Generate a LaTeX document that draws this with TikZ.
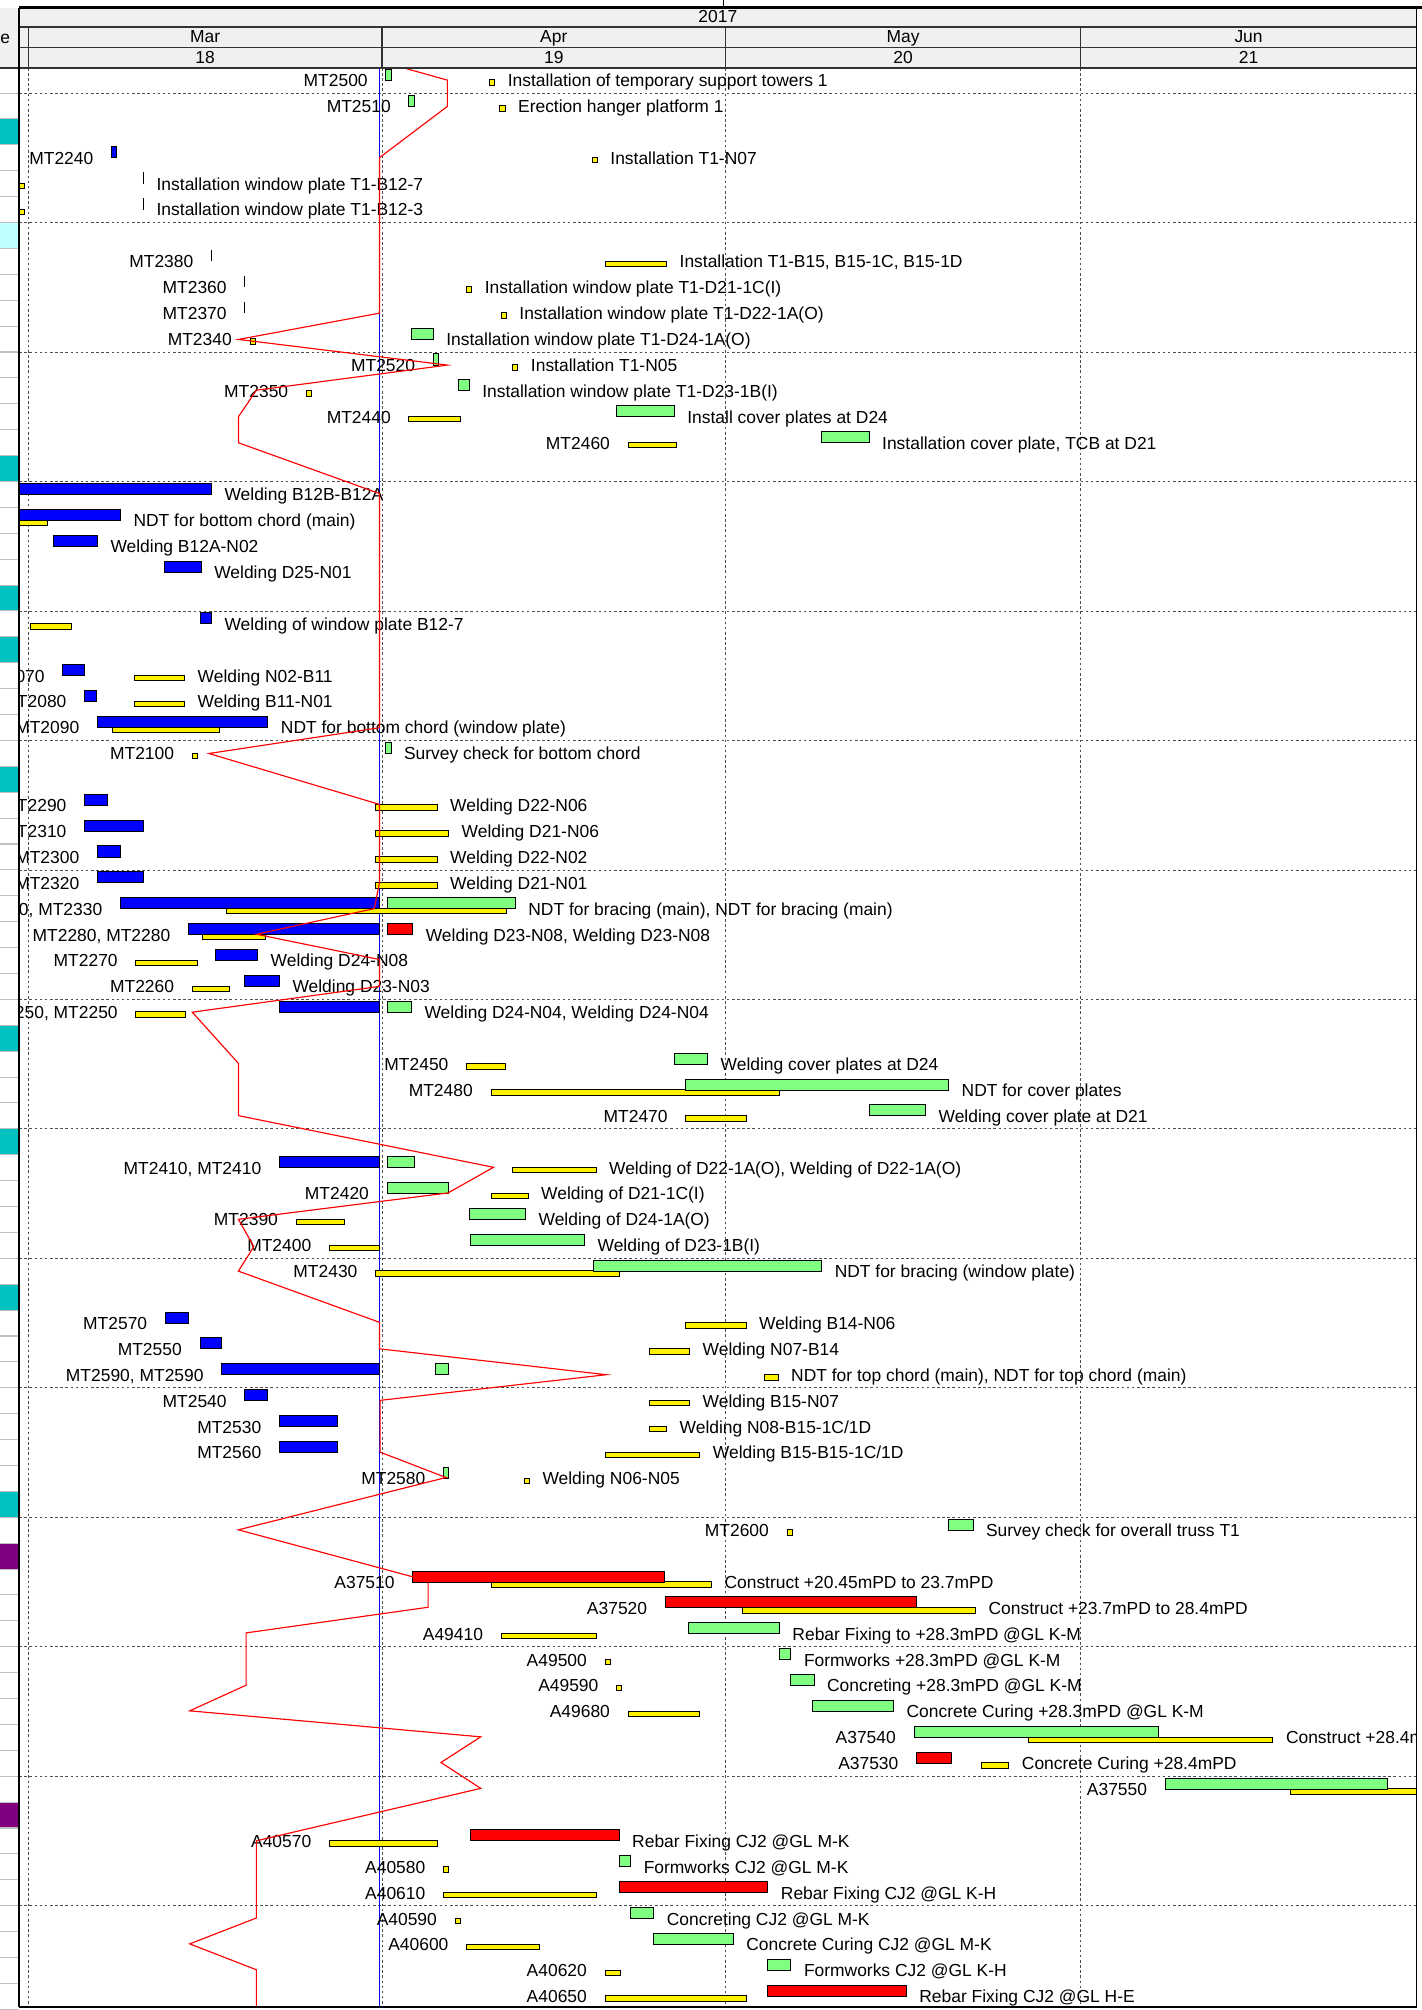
\documentclass[tikz,border=0pt]{standalone}
\usepackage{fontspec}
\setmainfont{Liberation Sans}
\usepackage{xcolor}

\definecolor{barGreen}{RGB}{128,255,128}
\definecolor{cellTeal}{RGB}{0,192,192}
\definecolor{cellCyan}{RGB}{192,255,255}
\definecolor{cellPurple}{RGB}{128,0,128}
\definecolor{headGray}{RGB}{240,240,240}

\begin{document}
\begin{tikzpicture}[x=1pt, y=-1pt,
    txt/.style={font=\fontsize{13.6}{16}\selectfont, inner sep=0pt},
    lbl/.style={txt, anchor=base east},
    desc/.style={txt, anchor=base west},
    actbar/.style={draw=black, line width=0.7pt},
    basebar/.style={draw=black, line width=0.7pt, fill=yellow},
    tickmark/.style={black, line width=0.8pt},
    grid/.style={black!70, line width=0.6pt, dash pattern=on 2pt off 2pt},
    hline/.style={black!80, line width=1pt},
    rowsep/.style={black!25, line width=0.8pt},
    dateline/.style={blue, line width=0.6pt},
    progress/.style={red, line width=0.9pt, line join=miter}
]

    \useasboundingbox (0,0) rectangle (1109,1568);

    % Row centre: y = 62.5 + 20.2*r
    \def\cellList{2/cellTeal,6/cellCyan,15/cellTeal,20/cellTeal,22/cellTeal,27/cellTeal,37/cellTeal,41/cellTeal,47/cellTeal,55/cellTeal,57/cellPurple,67/cellPurple}

    \def\baseList{0/382/386,1/390/394,3/462/466,4/12/19,5/12/19,7/472/520,8/364/368,9/391/395,10/195/199,11/400/404,12/239/243,13/319/359,14/490/528,17/12/37,21/24/56,23/105/144,24/105/144,25/88/171,26/150/154,28/293/341,29/293/350,30/293/341,31/293/341,32/177/395,33/158/207,34/106/154,35/150/179,36/106/145,38/364/394,39/383/608,40/535/582,42/400/465,43/383/412,44/231/269,45/257/296,46/293/483,48/535/582,49/507/538,50/596/607,51/507/538,52/507/520,53/472/546,54/409/413,56/614/618,58/383/555,59/579/761,60/391/465,61/472/476,62/481/485,63/490/546,64/802/993,65/766/787,66/1007/1112,68/257/341,69/346/350,70/346/465,71/355/359,72/364/421,73/472/484,74/472/582}

    \def\actList{0/301/305/barGreen,1/319/323/barGreen,3/87/91/blue,10/321/338/barGreen,11/338/342/barGreen,12/358/366/barGreen,13/481/526/barGreen,14/641/678/barGreen,16/10/165/blue,17/10/94/blue,18/42/76/blue,19/128/157/blue,21/156/165/blue,23/49/66/blue,24/66/75/blue,25/76/209/blue,26/301/305/barGreen,28/66/84/blue,29/66/112/blue,30/76/94/blue,31/76/112/blue,32/94/296/blue,32/302/402/barGreen,33/147/296/blue,33/302/322/red,34/168/201/blue,35/191/218/blue,36/218/296/blue,36/302/321/barGreen,38/526/552/barGreen,39/535/740/barGreen,40/678/722/barGreen,42/218/296/blue,42/302/323/barGreen,43/302/350/barGreen,44/366/410/barGreen,45/367/456/barGreen,46/463/641/barGreen,48/129/147/blue,49/156/173/blue,50/173/296/blue,50/340/350/barGreen,51/191/209/blue,52/218/263/blue,53/218/263/blue,54/346/350/barGreen,56/740/759/barGreen,58/322/518/red,59/519/715/red,60/537/608/barGreen,61/608/617/barGreen,62/617/635/barGreen,63/634/697/barGreen,64/713/904/barGreen,65/715/742/red,66/909/1082/barGreen,68/367/483/red,69/483/492/barGreen,70/483/599/red,71/492/510/barGreen,72/510/572/barGreen,73/599/617/barGreen,74/599/707/red}

    \def\labelList{0/287/MT2500,1/305/MT2510,3/73/MT2240,7/151/MT2380,8/177/MT2360,9/177/MT2370,10/181/MT2340,11/324/MT2520,12/225/MT2350,13/305/MT2440,14/476/MT2460,23/35/MT2070,24/52/MT2080,25/62/MT2090,26/136/MT2100,28/52/MT2290,29/52/MT2310,30/62/MT2300,31/62/MT2320,32/80/{MT2330, MT2330},33/133/{MT2280, MT2280},34/92/MT2270,35/136/MT2260,36/92/{MT2250, MT2250},38/350/MT2450,39/369/MT2480,40/521/MT2470,42/204/{MT2410, MT2410},43/288/MT2420,44/217/MT2390,45/243/MT2400,46/279/MT2430,48/115/MT2570,49/142/MT2550,50/159/{MT2590, MT2590},51/177/MT2540,52/204/MT2530,53/204/MT2560,54/332/MT2580,56/600/MT2600,58/308/A37510,59/505/A37520,60/377/A49410,61/458/A49500,62/467/A49590,63/476/A49680,64/699/A37540,65/701/A37530,66/895/A37550,68/243/A40570,69/332/A40580,70/332/A40610,71/341/A40590,72/350/A40600,73/458/A40620,74/458/A40650}

    \def\descList{0/396/Installation of temporary support towers 1,1/404/Erection hanger platform 1,3/476/Installation T1-N07,4/122/Installation window plate T1-B12-7,5/122/Installation window plate T1-B12-3,7/530/{Installation T1-B15, B15-1C, B15-1D},8/378/Installation window plate T1-D21-1C(I),9/405/Installation window plate T1-D22-1A(O),10/348/Installation window plate T1-D24-1A(O),11/414/Installation T1-N05,12/376/Installation window plate T1-D23-1B(I),13/536/Install cover plates at D24,14/688/{Installation cover plate, TCB at D21},16/175/Welding B12B-B12A,17/104/NDT for bottom chord (main),18/86/Welding B12A-N02,19/167/Welding D25-N01,21/175/Welding of window plate B12-7,23/154/Welding N02-B11,24/154/Welding B11-N01,25/219/NDT for bottom chord (window plate),26/315/Survey check for bottom chord,28/351/Welding D22-N06,29/360/Welding D21-N06,30/351/Welding D22-N02,31/351/Welding D21-N01,32/412/{NDT for bracing (main), NDT for bracing (main)},33/332/{Welding D23-N08, Welding D23-N08},34/211/Welding D24-N08,35/228/Welding D23-N03,36/331/{Welding D24-N04, Welding D24-N04},38/562/Welding cover plates at D24,39/750/NDT for cover plates,40/732/Welding cover plate at D21,42/475/{Welding of D22-1A(O), Welding of D22-1A(O)},43/422/Welding of D21-1C(I),44/420/Welding of D24-1A(O),45/466/Welding of D23-1B(I),46/651/NDT for bracing (window plate),48/592/Welding B14-N06,49/548/Welding N07-B14,50/617/{NDT for top chord (main), NDT for top chord (main)},51/548/Welding B15-N07,52/530/{Welding N08-B15-1C/1D},53/556/{Welding B15-B15-1C/1D},54/423/Welding N06-N05,56/769/Survey check for overall truss T1,58/565/Construct +20.45mPD to 23.7mPD,59/771/Construct +23.7mPD to 28.4mPD,60/618/Rebar Fixing to +28.3mPD @GL K-M,61/627/Formworks +28.3mPD @GL K-M,62/645/Concreting +28.3mPD @GL K-M,63/707/Concrete Curing +28.3mPD @GL K-M,64/1003/Construct +28.4mPD,65/797/Concrete Curing +28.4mPD,68/493/Rebar Fixing CJ2 @GL M-K,69/502/Formworks CJ2 @GL M-K,70/609/Rebar Fixing CJ2 @GL K-H,71/520/Concreting CJ2 @GL M-K,72/582/Concrete Curing CJ2 @GL M-K,73/627/Formworks CJ2 @GL K-H,74/717/Rebar Fixing CJ2 @GL H-E}

    % Left column cells and row separators
    \foreach \r/\col in \cellList {
        \pgfmathsetmacro\yc{62.5+20.2*\r}
        \fill[\col] (0,\yc-10.1) rectangle (15,\yc+10.1);
    }
    \foreach \r in {0,...,74} {
        \pgfmathsetmacro\yc{62.5+20.2*\r}
        \draw[rowsep] (0,\yc+10.1) -- (15,\yc+10.1);
    }

    % Chart area
    \begin{scope}
        \clip (15,53) rectangle (1105,1565);

        % grid lines
        \foreach \x in {22,298.5,566,843}
            \draw[grid] (\x,53) -- (\x,1565);
        \foreach \k in {0,...,14}
            \draw[grid] (15,72.6+101*\k) -- (1105,72.6+101*\k);

        % status date
        \draw[dateline] (296,53) -- (296,1565);

        % baseline bars
        \foreach \r/\xa/\xb in \baseList {
            \pgfmathsetmacro\yc{62.5+20.2*\r}
            \draw[basebar] (\xa,\yc-0.3) rectangle (\xb,\yc+4);
        }

        % actual bars
        \foreach \r/\xa/\xb/\col in \actList {
            \pgfmathsetmacro\yc{62.5+20.2*\r}
            \draw[actbar, fill=\col] (\xa,\yc-8.6) rectangle (\xb,\yc);
        }

        % zero length tasks
        \foreach \r/\x in {4/112,5/112,7/165,8/191,9/191} {
            \pgfmathsetmacro\yc{62.5+20.2*\r}
            \draw[tickmark] (\x,\yc-9) -- (\x,\yc);
        }

        % task ids
        \foreach \r/\x/\lab in \labelList {
            \pgfmathsetmacro\yc{62.5+20.2*\r}
            \node[lbl] (id\r) at (\x,\yc+5) {\lab};
        }

        % task names
        \foreach \r/\x/\dsc in \descList {
            \pgfmathsetmacro\yc{62.5+20.2*\r}
            \node[desc] (task\r) at (\x,\yc+5) {\dsc};
        }

        % progress line
        \draw[progress] (315,53) -- (349,62.5) -- (349,83) -- (296,123) -- (296,244.3)
            -- (186,264.8) -- (349,284.8) -- (200,304.4) -- (186,325.1) -- (186,345.4)
            -- (296,385) -- (296,567.7) -- (163,587.8) -- (296,627.5) -- (296,688.7)
            -- (292,708.8) -- (200,728.8) -- (296,748.5) -- (296,769.5) -- (150,789.6)
            -- (186,829.5) -- (186,870.3) -- (385,910.6) -- (349.5,930.6) -- (186,951.2)
            -- (198,972.5) -- (186,991.6) -- (296,1031.5) -- (296,1052.2) -- (473,1072.4)
            -- (296.5,1092.4) -- (296.5,1132.8) -- (348,1152.6) -- (186,1193.4)
            -- (321,1229.8) -- (334,1233.5) -- (334,1253.8) -- (192,1273.8) -- (192,1314.6)
            -- (148,1334.6) -- (375,1354.9) -- (344,1374.9) -- (375,1395.1) -- (200,1436)
            -- (200,1496.2) -- (148,1516.4) -- (200,1536.6) -- (200,1566);
    \end{scope}

    % Header
    \fill[headGray] (0,6.5) rectangle (1105,53);
    \draw[hline] (15,21) -- (1105,21);
    \draw[hline] (15,37) -- (1105,37);
    \draw[hline] (0,53) -- (1105,53);
    \foreach \x in {22,298,566,843}
        \draw[hline] (\x,21) -- (\x,53);
    \draw[black, line width=0.6pt] (564,0) -- (564,6);
    \draw[black, line width=2.4pt] (15,6) -- (1109,6);

    \node[txt, anchor=base west] (colname) at (0,34.3) {e};
    \node[txt, anchor=base] (year) at (560,17.8) {2017};
    \foreach \m/\xm [count=\i] in {Mar/160,Apr/432,May/704.5,Jun/974}
        \node[txt, anchor=base] (month\i) at (\xm,33.5) {\m};
    \foreach \w/\xm [count=\i] in {18/160,19/432,20/704.5,21/974}
        \node[txt, anchor=base] (week\i) at (\xm,49.5) {\w};

    % Borders
    \draw[black, line width=1.8pt] (15,6) -- (15,1566);
    \draw[black, line width=1pt] (1105,6) -- (1105,1566);
    \draw[black, line width=1.8pt] (15,1565.5) -- (1105.5,1565.5);

\end{tikzpicture}
\end{document}
